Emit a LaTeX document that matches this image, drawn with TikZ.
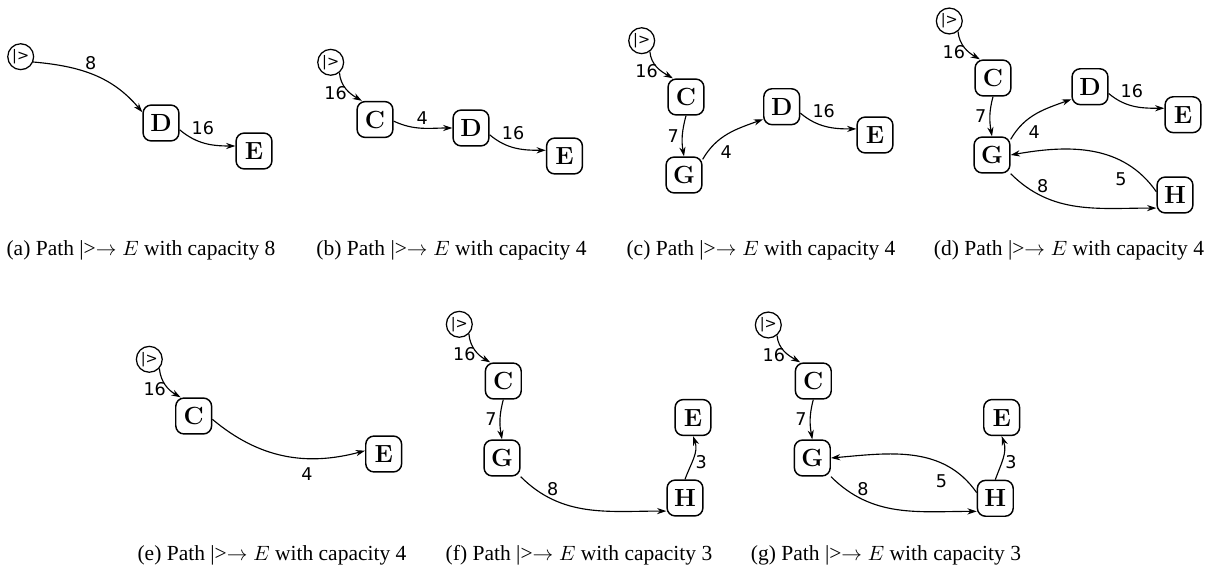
\documentclass[tikz,border=0pt]{standalone}
\usepackage[no-math]{fontspec}
\setmainfont{Liberation Serif}
\newfontfamily\labelfont{DejaVu Sans}
\usepackage{tikz}
\usetikzlibrary{arrows.meta}
\tikzset{
  vtx/.style={rectangle, rounded corners=0.14cm, draw, line width=0.7pt,
              minimum size=0.61cm, inner sep=0pt, font=\large},
  src/.style={circle, draw, line width=0.6pt, minimum size=0.44cm,
              inner sep=0pt, font=\labelfont\fontsize{7}{8}\selectfont},
  flow/.style={-{Stealth[length=4.5pt,width=3pt]}, line width=0.55pt},
  wlbl/.style={font=\labelfont\fontsize{8.5}{9}\selectfont, inner sep=1.5pt},
  subcap/.style={anchor=base, font=\fontsize{10.4}{12}\selectfont},
}
\begin{document}
\begin{tikzpicture}[x=0.017cm, y=-0.017cm]
  \useasboundingbox (0,0) rectangle (1218,572);
  % (a)
  \node[src] (a-s) at (20.7,56.7) {|>};
  \node[vtx] (a-D) at (161,123) {$\mathbf{D}$};
  \node[vtx] (a-E) at (254,151) {$\mathbf{E}$};
  \draw[flow] (a-s.-23) to[out=-5, in=130] node[wlbl, above, pos=0.47] {8} (a-D.150);
  \draw[flow] (a-D.-20) to[out=-40, in=180] node[wlbl, above=2pt, pos=0.45] {16} (a-E.165);
  % (b)
  \node[src] (b-s) at (330.7,62.3) {|>};
  \node[vtx] (b-C) at (375,119.5) {$\mathbf{C}$};
  \node[vtx] (b-D) at (471,128) {$\mathbf{D}$};
  \node[vtx] (b-E) at (564.5,156) {$\mathbf{E}$};
  \draw[flow] (b-s.-50) to[out=-85, in=150] node[wlbl, left, pos=0.65] {16} (b-C.125);
  \draw[flow] (b-C.-5) to[out=-25, in=180] node[wlbl, above, pos=0.5] {4} (b-D.west);
  \draw[flow] (b-D.-20) to[out=-40, in=180] node[wlbl, above=2pt, pos=0.45] {16} (b-E.163);
  % (c)
  \node[src] (c-s) at (641.7,40.7) {|>};
  \node[vtx] (c-C) at (686,97) {$\mathbf{C}$};
  \node[vtx] (c-G) at (684,175) {$\mathbf{G}$};
  \node[vtx] (c-D) at (781.7,106.7) {$\mathbf{D}$};
  \node[vtx] (c-E) at (875,135) {$\mathbf{E}$};
  \draw[flow] (c-s.-53) to[out=-85, in=150] node[wlbl, left, pos=0.65] {16} (c-C.125);
  \draw[flow] (c-C.south) to[out=-105, in=100] node[wlbl, left] {7} (c-G.north);
  \draw[flow] (c-G.40) to[out=60, in=200] node[wlbl, below right, pos=0.3] {4} (c-D.214);
  \draw[flow] (c-D.-19) to[out=-40, in=180] node[wlbl, above=2pt, pos=0.45] {16} (c-E.162);
  % (d)
  \node[src] (d-s) at (949.3,21) {|>};
  \node[vtx] (d-C) at (993,78) {$\mathbf{C}$};
  \node[vtx] (d-D) at (1090,86.7) {$\mathbf{D}$};
  \node[vtx] (d-E) at (1183,114.7) {$\mathbf{E}$};
  \node[vtx] (d-G) at (992,155) {$\mathbf{G}$};
  \node[vtx] (d-H) at (1175,195) {$\mathbf{H}$};
  \draw[flow] (d-s.-50) to[out=-85, in=150] node[wlbl, left, pos=0.65] {16} (d-C.125);
  \draw[flow] (d-C.south) to[out=-105, in=100] node[wlbl, left] {7} (d-G.north);
  \draw[flow] (d-G.40) to[out=60, in=200] node[wlbl, below right, pos=0.3] {4} (d-D.214);
  \draw[flow] (d-D.-20) to[out=-40, in=180] node[wlbl, above=2pt, pos=0.45] {16} (d-E.161);
  \draw[flow] (d-G.-45) to[out=-45, in=180] node[wlbl, above, pos=0.25] {8} (d-H.215);
  \draw[flow] (d-H.170) to[out=125, in=10] node[wlbl, below=4pt, pos=0.3] {5} (d-G.east);
  % (e)
  \node[src] (e-s) at (149.3,359.3) {|>};
  \node[vtx] (e-C) at (193.7,416) {$\mathbf{C}$};
  \node[vtx] (e-E) at (383.7,454) {$\mathbf{E}$};
  \draw[flow] (e-s.-42) to[out=-85, in=150] node[wlbl, left, pos=0.65] {16} (e-C.125);
  \draw[flow] (e-C.-10) to[out=-40, in=195] node[wlbl, below=3pt, pos=0.65] {4} (e-E.170);
  % (f)
  \node[src] (f-s) at (459.3,324.3) {|>};
  \node[vtx] (f-C) at (503.3,381) {$\mathbf{C}$};
  \node[vtx] (f-G) at (502,458) {$\mathbf{G}$};
  \node[vtx] (f-E) at (693,417.5) {$\mathbf{E}$};
  \node[vtx] (f-H) at (685,498) {$\mathbf{H}$};
  \draw[flow] (f-s.-45) to[out=-85, in=150] node[wlbl, left, pos=0.65] {16} (f-C.125);
  \draw[flow] (f-C.south) to[out=-105, in=100] node[wlbl, left] {7} (f-G.north);
  \draw[flow] (f-G.-45) to[out=-45, in=180] node[wlbl, above, pos=0.25] {8} (f-H.215);
  \draw[flow] (f-H.north) to[out=70, in=-70] node[wlbl, right, pos=0.4] {3} (f-E.south);
  % (g)
  \node[src] (g-s) at (768.3,325) {|>};
  \node[vtx] (g-C) at (813.3,381) {$\mathbf{C}$};
  \node[vtx] (g-G) at (812.3,458) {$\mathbf{G}$};
  \node[vtx] (g-E) at (1001.7,417.5) {$\mathbf{E}$};
  \node[vtx] (g-H) at (995.3,498.3) {$\mathbf{H}$};
  \draw[flow] (g-s.-50) to[out=-85, in=150] node[wlbl, left, pos=0.65] {16} (g-C.125);
  \draw[flow] (g-C.south) to[out=-105, in=100] node[wlbl, left] {7} (g-G.north);
  \draw[flow] (g-G.-45) to[out=-45, in=180] node[wlbl, above, pos=0.25] {8} (g-H.215);
  \draw[flow] (g-H.163) to[out=125, in=5] node[wlbl, below=4pt, pos=0.3] {5} (g-G.east);
  \draw[flow] (g-H.north) to[out=70, in=-70] node[wlbl, right, pos=0.4] {3} (g-E.south);
  % captions
  \foreach \cx/\cy/\ltr/\num in {141/255/a/8, 451.5/255/b/4, 761/255/c/4, 1069/255/d/4,
                                 272/560/e/4, 579/560/f/3, 886/560/g/3}{
    \node[subcap] (cap-\ltr) at (\cx,\cy) {(\ltr) Path |>$\rightarrow E$ with capacity \num};
  }
\end{tikzpicture}
\end{document}
